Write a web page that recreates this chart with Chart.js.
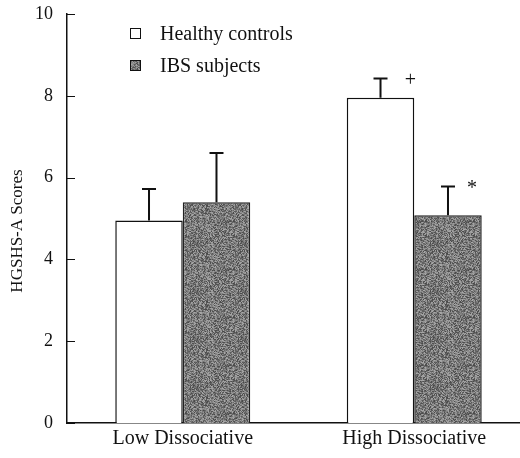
<!DOCTYPE html>
<html>
<head>
<meta charset="utf-8">
<script src="https://cdn.jsdelivr.net/npm/chart.js@4"></script>
<style>
  html, body { margin: 0; padding: 0; background: #fff; overflow: hidden; }
  #wrap { width: 530px; height: 458px; }
</style>
</head>
<body>
<div id="wrap"><canvas id="chart"></canvas></div>
<script>
// data
const categories = ["Low Dissociative", "High Dissociative"];
const healthyScores = [4.95, 7.95];
const ibsScores = [5.4, 5.08];
const healthyErr = [0.77, 0.47];
const ibsErr = [1.2, 0.7];
const healthyMarks = ["", "+"];
const ibsMarks = ["", "*"];
const yTicks = [0, 2, 4, 6, 8, 10];
const yTitle = "HGSHS-A Scores";

const serif = "'Liberation Serif', 'Times New Roman', serif";

// grainy gray fill like the scanned print
function grainPattern() {
  const c = document.createElement("canvas");
  c.width = 48; c.height = 48;
  const g = c.getContext("2d");
  const img = g.createImageData(48, 48);
  for (let i = 0; i < 48 * 48; i++) {
    const h = Math.abs(Math.sin(i * 12.9898 + 78.233) * 43758.5453) % 1;
    const v = Math.round(70 + h * 100);
    img.data[i * 4] = v;
    img.data[i * 4 + 1] = v;
    img.data[i * 4 + 2] = v;
    img.data[i * 4 + 3] = 255;
  }
  g.putImageData(img, 0, 0);
  return g.createPattern(c, "repeat");
}
const grain = grainPattern();

// error bars (upper half only) + significance marks
const errorBars = {
  id: "errorBars",
  afterDatasetsDraw(chart) {
    const ctx = chart.ctx;
    const y = chart.scales.y;
    const errs = [healthyErr, ibsErr];
    const marks = [healthyMarks, ibsMarks];
    ctx.save();
    ctx.strokeStyle = "#111";
    ctx.lineWidth = 2;
    chart.data.datasets.forEach((ds, di) => {
      chart.getDatasetMeta(di).data.forEach((bar, i) => {
        const top = y.getPixelForValue(ds.data[i] + errs[di][i]);
        ctx.beginPath();
        ctx.moveTo(bar.x, bar.y);
        ctx.lineTo(bar.x, top);
        ctx.moveTo(bar.x - 7, top);
        ctx.lineTo(bar.x + 7, top);
        ctx.stroke();
        if (marks[di][i]) {
          ctx.fillStyle = "#111";
          ctx.font = "20px " + serif;
          ctx.textAlign = "center";
          ctx.textBaseline = "middle";
          ctx.fillText(marks[di][i], bar.x + (di === 0 ? 30 : 24), top + 2);
        }
      });
    });
    ctx.restore();
  }
};

// inward tick marks on the y axis, and the axis title
const axisExtras = {
  id: "axisExtras",
  afterDraw(chart) {
    const ctx = chart.ctx;
    const y = chart.scales.y;
    const left = chart.chartArea.left;
    ctx.save();
    ctx.strokeStyle = "#111";
    ctx.lineWidth = 1;
    yTicks.forEach(v => {
      const py = Math.round(y.getPixelForValue(v)) + 0.5;
      ctx.beginPath();
      ctx.moveTo(left, py);
      ctx.lineTo(left + 8, py);
      ctx.stroke();
    });
    ctx.translate(18, 231);
    ctx.rotate(-Math.PI / 2);
    ctx.fillStyle = "#111";
    ctx.font = "17px " + serif;
    ctx.textAlign = "center";
    ctx.textBaseline = "middle";
    ctx.fillText(yTitle, 0, 0);
    ctx.restore();
  }
};

// legend in the upper left of the plot
const boxLegend = {
  id: "boxLegend",
  afterDraw(chart) {
    const ctx = chart.ctx;
    ctx.save();
    ctx.font = "20px " + serif;
    ctx.textBaseline = "middle";
    chart.data.datasets.forEach((ds, i) => {
      const cy = 34 + i * 32;
      ctx.fillStyle = ds.backgroundColor;
      ctx.fillRect(130.5, cy - 5.5, 10, 10);
      ctx.strokeStyle = "#111";
      ctx.lineWidth = 1;
      ctx.strokeRect(130.5, cy - 5.5, 10, 10);
      ctx.fillStyle = "#111";
      ctx.fillText(ds.label, 160, cy + 1);
    });
    ctx.restore();
  }
};

new Chart(document.getElementById("chart"), {
  type: "bar",
  data: {
    labels: categories,
    datasets: [
      {
        label: "Healthy controls",
        data: healthyScores,
        backgroundColor: "#ffffff",
        borderColor: "#111",
        borderWidth: 1.5
      },
      {
        label: "IBS subjects",
        data: ibsScores,
        backgroundColor: grain,
        borderColor: "#222",
        borderWidth: 1.5
      }
    ]
  },
  options: {
    responsive: true,
    maintainAspectRatio: false,
    animation: false,
    layout: { padding: { top: 14, left: 0, right: 0, bottom: 0 } },
    plugins: {
      legend: { display: false },
      tooltip: { enabled: false }
    },
    datasets: {
      bar: { categoryPercentage: 0.583, barPercentage: 1 }
    },
    scales: {
      x: {
        grid: { display: false, drawTicks: false },
        border: { color: "#111", width: 1.5 },
        ticks: {
          color: "#111",
          font: { family: serif, size: 20 },
          padding: 4
        },
        afterFit(scale) { scale.height = 35; }
      },
      y: {
        min: 0,
        max: 10,
        afterBuildTicks(scale) { scale.ticks = yTicks.map(v => ({ value: v })); },
        grid: { display: false, drawTicks: false },
        border: { color: "#111", width: 1.5 },
        ticks: {
          color: "#111",
          font: { family: serif, size: 18 },
          padding: 14
        },
        afterFit(scale) {
          scale.width = 67;
          scale.paddingTop = 0;
          scale.paddingBottom = 0;
        }
      }
    }
  },
  plugins: [errorBars, axisExtras, boxLegend]
});
</script>
</body>
</html>
